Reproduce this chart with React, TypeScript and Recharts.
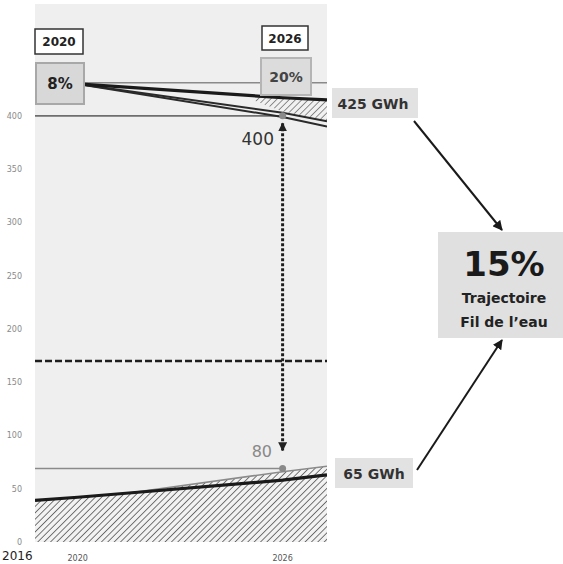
import React from 'react';
import { ComposedChart, Line, Area, XAxis, YAxis, CartesianGrid } from 'recharts';

// X axis: tick positions and their printed labels
const xTickValues = [2018.75, 2020, 2026];
const xTickLabels = ['2016', '2020', '2026'];
const xDomain = [2018.75, 2027.3];
// Y axis ticks (GWh)
const yTicks = [0, 50, 100, 150, 200, 250, 300, 350, 400];
const yDomain = [0, 505];

// Upper group (consumption trajectories)
const topYears = [2020, 2026, 2027.3];
const topRef = [431, 431, 431];
const topA = [430, 417, 415];
const topB = [430, 403, 395];
const topC = [430, 399, 390];

// Hatched gap between the bold upper line and the next one
const bandYears = [2025.2, 2026, 2027.3];
const bandLow = [414, 404, 396];
const bandHigh = [418, 416, 414];

// Horizontal target lines ending at 2026
const targetYears = [2018.75, 2026];
const target400 = [400, 400];
const target80 = [69, 69];

// Dashed mid line
const midYears = [2018.75, 2027.3];
const midLine = [170, 170];

// Lower group (renewable production)
const lowYears = [2018.75, 2020, 2021.5, 2026, 2027.3];
const lowD = [39, 42, 46, 58, 63];
const lowE = [39, 42, 46, 66, 71];

// Vertical gap arrow at 2026
const gapYears = [2026, 2026];
const gapValues = [393, 86];

const topData = topYears.map((x, i) => ({ x, ref: topRef[i], a: topA[i], b: topB[i], c: topC[i] }));
const bandData = bandYears.map((x, i) => ({ x, band: [bandLow[i], bandHigh[i]] }));
const t400Data = targetYears.map((x, i) => ({ x, y: target400[i] }));
const t80Data = targetYears.map((x, i) => ({ x, y: target80[i] }));
const midData = midYears.map((x, i) => ({ x, y: midLine[i] }));
const lowData = lowYears.map((x, i) => ({ x, d: lowD[i], e: lowE[i] }));
const gapData = gapYears.map((x, i) => ({ x, y: gapValues[i] }));

const endDot = (props: any) => {
  const { cx, cy, index } = props;
  if (index !== 1) return <g key={`d${index}`} />;
  return <circle key={`d${index}`} cx={cx} cy={cy} r={3.5} fill="#8a8a8a" stroke="none" />;
};

const XTick = (props: any) => {
  const { x, y, payload } = props;
  const i = xTickValues.indexOf(payload.value);
  const label = i >= 0 ? xTickLabels[i] : String(payload.value);
  if (i === 0) {
    return (
      <text x={2} y={y + 10} textAnchor="start" fontSize={12} fontFamily="DejaVu Sans" fill="#222">
        {label}
      </text>
    );
  }
  return (
    <text x={x} y={y + 11} textAnchor="middle" fontSize={8} fontFamily="DejaVu Sans" fill="#555">
      {label}
    </text>
  );
};

const YTick = (props: any) => {
  const { x, y, payload } = props;
  return (
    <text x={x} y={y + 3} textAnchor="end" fontSize={8} fontFamily="DejaVu Sans" fill="#8a8a8a">
      {payload.value}
    </text>
  );
};

const boxFont = 'DejaVu Sans';

export default function App() {
  return (
    <div style={{ position: 'absolute', left: 0, top: 0, width: 563, height: 564, background: '#ffffff' }}>
      <ComposedChart width={563} height={564} margin={{ top: 4, right: 236, bottom: 0, left: 0 }}>
        <defs>
          <pattern id="hatch" patternUnits="userSpaceOnUse" width="4.5" height="4.5" patternTransform="rotate(45)">
            <rect width="4.5" height="4.5" fill="#f2f2f2" />
            <line x1="0" y1="0" x2="0" y2="4.5" stroke="#555" strokeWidth="1.6" />
          </pattern>
          <marker id="ahead" viewBox="0 0 10 10" refX="9" refY="5" markerWidth="3" markerHeight="3" orient="auto-start-reverse">
            <path d="M0,0 L10,5 L0,10 z" fill="#222" />
          </marker>
        </defs>
        <CartesianGrid fill="#efefef" stroke="none" horizontal={false} vertical={false} />
        <XAxis
          type="number"
          dataKey="x"
          domain={xDomain}
          ticks={xTickValues}
          allowDataOverflow
          axisLine={false}
          tickLine={false}
          height={22}
          tick={<XTick />}
          interval={0}
        />
        <YAxis
          type="number"
          domain={yDomain}
          ticks={yTicks}
          allowDataOverflow
          axisLine={false}
          tickLine={false}
          tickSize={0}
          tickMargin={13}
          width={35}
          tick={<YTick />}
          interval={0}
        />
        <Area data={lowData} dataKey="e" type="linear" fill="url(#hatch)" fillOpacity={1} stroke="none" baseValue={0} isAnimationActive={false} />
        <Area data={bandData} dataKey="band" type="linear" fill="url(#hatch)" fillOpacity={0.8} stroke="none" isAnimationActive={false} />
        <Line data={midData} dataKey="y" type="linear" stroke="#1e1e1e" strokeWidth={2.5} strokeDasharray="7 3" dot={false} isAnimationActive={false} />
        <Line data={t400Data} dataKey="y" type="linear" stroke="#6e6e6e" strokeWidth={1.8} dot={endDot} isAnimationActive={false} />
        <Line data={t80Data} dataKey="y" type="linear" stroke="#8a8a8a" strokeWidth={1.5} dot={endDot} isAnimationActive={false} />
        <Line data={topData} dataKey="ref" type="linear" stroke="#8a8a8a" strokeWidth={1.5} dot={false} isAnimationActive={false} />
        <Line data={topData} dataKey="c" type="linear" stroke="#2a2a2a" strokeWidth={2} dot={false} isAnimationActive={false} />
        <Line data={topData} dataKey="b" type="linear" stroke="#2a2a2a" strokeWidth={2} dot={false} isAnimationActive={false} />
        <Line data={topData} dataKey="a" type="linear" stroke="#1a1a1a" strokeWidth={3.2} dot={false} isAnimationActive={false} />
        <Line data={lowData} dataKey="e" type="linear" stroke="#8a8a8a" strokeWidth={1.5} dot={false} isAnimationActive={false} />
        <Line data={lowData} dataKey="d" type="linear" stroke="#1a1a1a" strokeWidth={3.2} dot={false} isAnimationActive={false} />
        <Line
          data={gapData}
          dataKey="y"
          type="linear"
          stroke="#1e1e1e"
          strokeWidth={3}
          strokeDasharray="3 2"
          dot={false}
          markerStart="url(#ahead)"
          markerEnd="url(#ahead)"
          isAnimationActive={false}
        />
      </ComposedChart>
      <svg width={563} height={564} style={{ position: 'absolute', left: 0, top: 0, pointerEvents: 'none' }}>
        <defs>
          <marker id="bighead" viewBox="0 0 10 10" refX="9" refY="5" markerWidth="5" markerHeight="5" orient="auto">
            <path d="M0,0 L10,5 L0,10 z" fill="#1a1a1a" />
          </marker>
        </defs>
        {/* year boxes */}
        <rect x={35} y={29} width={48} height={25} fill="#ffffff" stroke="#333" strokeWidth={1.5} />
        <text x={59} y={46} textAnchor="middle" fontSize={12} fontWeight="bold" fontFamily={boxFont} fill="#222">2020</text>
        <rect x={262} y={26} width={46} height={24} fill="#ffffff" stroke="#333" strokeWidth={1.5} />
        <text x={285} y={43} textAnchor="middle" fontSize={12} fontWeight="bold" fontFamily={boxFont} fill="#222">2026</text>
        {/* percentage boxes */}
        <rect x={36} y={63} width={48} height={41} fill="#d8d8d8" stroke="#a8a8a8" strokeWidth={2} />
        <text x={60} y={89} textAnchor="middle" fontSize={15} fontWeight="bold" fontFamily={boxFont} fill="#222">8%</text>
        <rect x={261} y={58} width={50} height={37} fill="#dcdcdc" stroke="#b5b5b5" strokeWidth={2} />
        <text x={286} y={82} textAnchor="middle" fontSize={14} fontWeight="bold" fontFamily={boxFont} fill="#444">20%</text>
        {/* gap labels */}
        <text x={274} y={145} textAnchor="end" fontSize={17} fontFamily={boxFont} fill="#333">400</text>
        <text x={272} y={457} textAnchor="end" fontSize={16} fontFamily={boxFont} fill="#888">80</text>
        {/* end labels */}
        <rect x={332} y={88} width={86} height={30} fill="#e2e2e2" />
        <text x={373} y={109} textAnchor="middle" fontSize={14} fontWeight="bold" fontFamily={boxFont} fill="#333">425 GWh</text>
        <rect x={335} y={458} width={78} height={30} fill="#e2e2e2" />
        <text x={374} y={479} textAnchor="middle" fontSize={14} fontWeight="bold" fontFamily={boxFont} fill="#333">65 GWh</text>
        {/* summary box */}
        <rect x={438} y={232} width={125} height={106} fill="#e0e0e0" />
        <text x={504} y={276} textAnchor="middle" fontSize={34} fontWeight="bold" fontFamily={boxFont} fill="#1a1a1a">15%</text>
        <text x={504} y={303} textAnchor="middle" fontSize={14} fontWeight="bold" fontFamily={boxFont} fill="#222">Trajectoire</text>
        <text x={504} y={327} textAnchor="middle" fontSize={14} fontWeight="bold" fontFamily={boxFont} fill="#222">Fil de l’eau</text>
        {/* connecting arrows */}
        <line x1={414} y1={121} x2={502} y2={230} stroke="#1a1a1a" strokeWidth={2} markerEnd="url(#bighead)" />
        <line x1={417} y1={470} x2={502} y2={340} stroke="#1a1a1a" strokeWidth={2} markerEnd="url(#bighead)" />
      </svg>
    </div>
  );
}
